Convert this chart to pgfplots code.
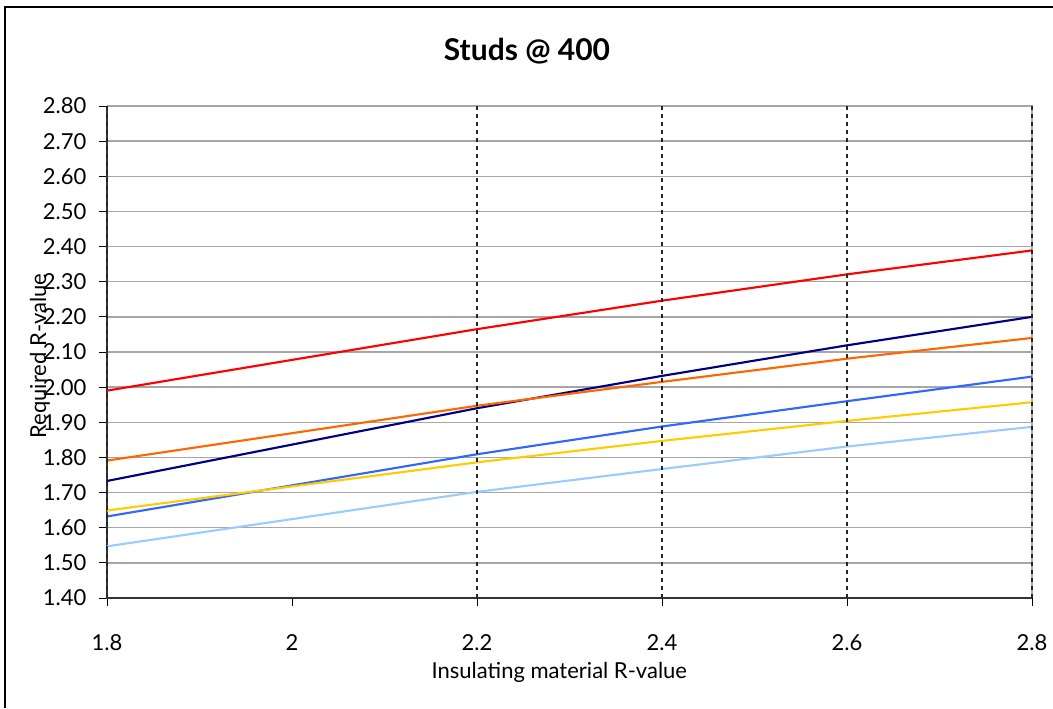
\documentclass[border=0pt]{standalone}
\usepackage{pgfplots}
\pgfplotsset{compat=1.18}
\usepackage{fontspec}
\setmainfont{Lato}
\definecolor{cred}{HTML}{FF0000}
\definecolor{cnavy}{HTML}{000080}
\definecolor{corange}{HTML}{FF6600}
\definecolor{cblue}{HTML}{3366FF}
\definecolor{cgold}{HTML}{FFCC00}
\definecolor{clblue}{HTML}{99CCFF}
\definecolor{gridgray}{HTML}{A6A6A6}
\begin{document}
\begin{tikzpicture}[x=0.75pt,y=0.75pt]
\useasboundingbox (0,0) rectangle (1053,708);
\draw[black,line width=0.9pt] (5,0) -- (5,701) -- (1053,701);
\begin{axis}[
  at={(80.25pt,82.5pt)}, anchor=south west,
  scale only axis, width=693.75pt, height=369pt,
  xmin=1.8, xmax=2.8, ymin=1.4, ymax=2.8,
  xtick={1.8,2,2.2,2.4,2.6,2.8},
  xticklabels={1.8,2,2.2,2.4,2.6,2.8},
  ytick={1.4,1.5,...,2.81},
  yticklabel style={/pgf/number format/fixed,/pgf/number format/fixed zerofill,/pgf/number format/precision=2,xshift=-6pt},
  /pgf/number format/assume math mode=true,
  tick label style={font=\fontsize{16.5}{18}\selectfont},
  xticklabel style={yshift=-18pt},
  tick align=outside, tick pos=left,
  major tick length=6pt,
  tick style={black, line width=0.6pt},
  ymajorgrids, grid style={gridgray, line width=1pt},
  axis line style={draw=none},
  title={\textbf{Studs @ 400}},
  title style={at={(axis description cs:0.454,1.095)}, anchor=center, font=\fontsize{22.5}{26}\selectfont},
  xlabel={Insulating material R-value},
  xlabel style={at={(axis description cs:0.489,-0.152)}, anchor=center, font=\fontsize{16.5}{18}\selectfont},
  ylabel={Required R-value},
  ylabel style={at={(axis description cs:-0.0724,0.492)}, anchor=center, font=\fontsize{16.5}{18}\selectfont},
  clip=false,
]
\draw[gridgray, line width=1.2pt] (axis cs:1.8,2.8) -- (axis cs:2.8,2.8) -- (axis cs:2.8,1.4);
\draw[black!80, line width=1.2pt] (axis cs:1.8,2.8) -- (axis cs:1.8,1.4) -- (axis cs:2.8,1.4);
\addplot[cred, line width=1.6pt] coordinates {(1.8,1.990) (2.2,2.165) (2.4,2.246) (2.6,2.321) (2.8,2.389)};
\addplot[cnavy, line width=1.6pt] coordinates {(1.8,1.733) (2.2,1.940) (2.4,2.032) (2.6,2.119) (2.8,2.200)};
\addplot[corange, line width=1.6pt] coordinates {(1.8,1.791) (2.2,1.947) (2.4,2.015) (2.6,2.081) (2.8,2.140)};
\addplot[cblue, line width=1.6pt] coordinates {(1.8,1.632) (2.2,1.809) (2.4,1.888) (2.6,1.960) (2.8,2.030)};
\addplot[cgold, line width=1.6pt] coordinates {(1.8,1.649) (2.2,1.786) (2.4,1.847) (2.6,1.904) (2.8,1.957)};
\addplot[clblue, line width=1.6pt] coordinates {(1.8,1.547) (2.2,1.702) (2.4,1.767) (2.6,1.831) (2.8,1.887)};
\addplot[black!85, line width=1.7pt, dash pattern=on 3pt off 3pt] coordinates {(1.8,1.4) (1.8,2.8)};
\addplot[black!85, line width=1.7pt, dash pattern=on 3pt off 3pt] coordinates {(2.2,1.4) (2.2,2.8)};
\addplot[black!85, line width=1.7pt, dash pattern=on 3pt off 3pt] coordinates {(2.4,1.4) (2.4,2.8)};
\addplot[black!85, line width=1.7pt, dash pattern=on 3pt off 3pt] coordinates {(2.6,1.4) (2.6,2.8)};
\addplot[black!85, line width=1.7pt, dash pattern=on 3pt off 3pt] coordinates {(2.8,1.4) (2.8,2.8)};
\end{axis}
\end{tikzpicture}
\end{document}
